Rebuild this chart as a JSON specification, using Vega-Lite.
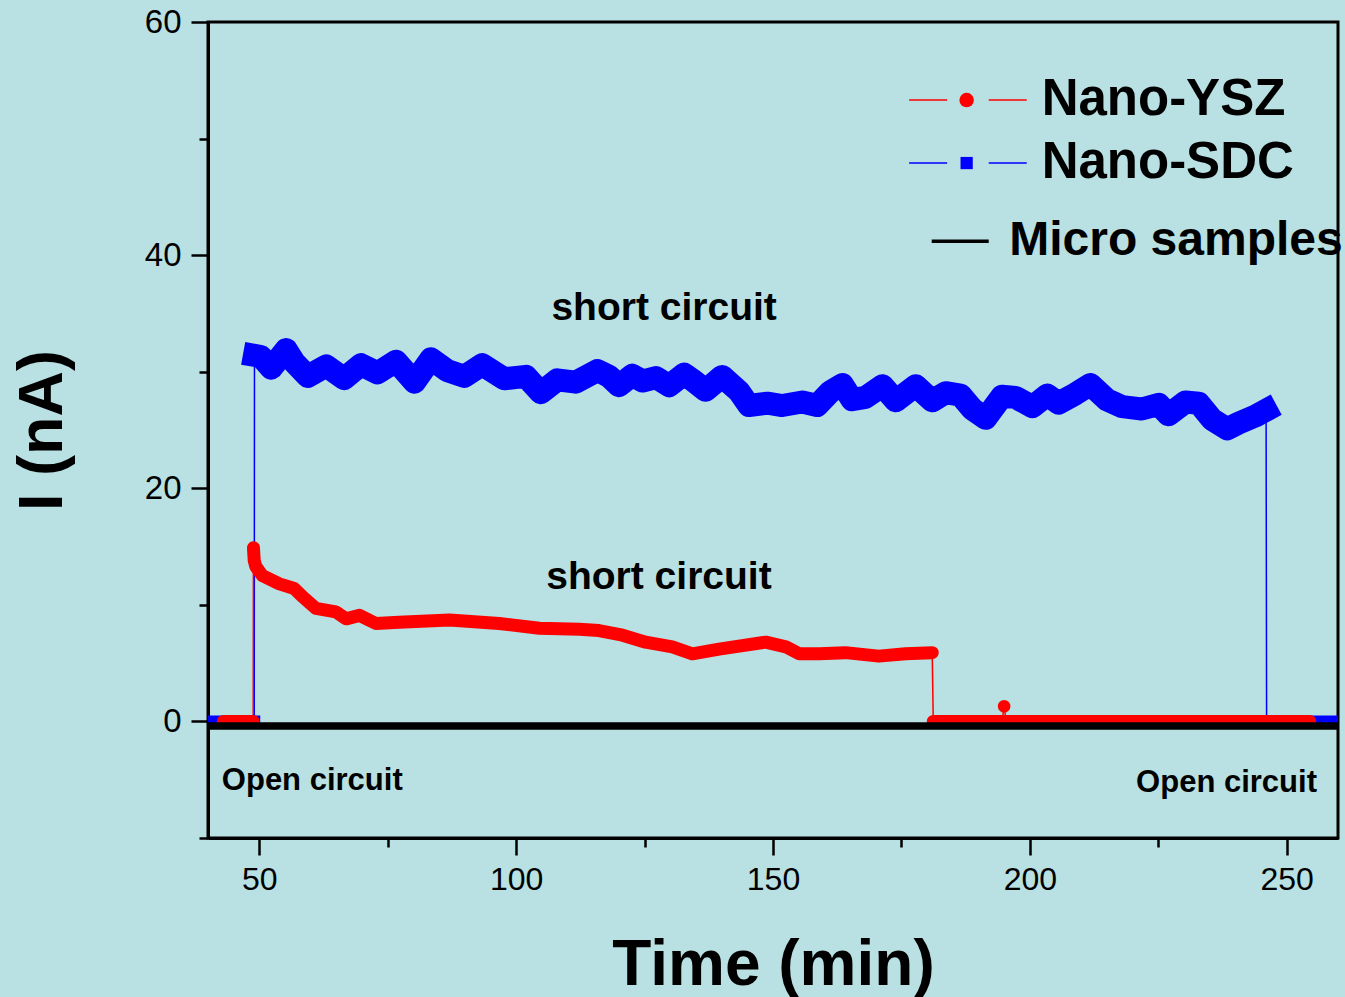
{
  "$schema": "https://vega.github.io/schema/vega-lite/v6.json",
  "width": 1130,
  "height": 816,
  "autosize": {"type": "none"},
  "padding": {"left": 208, "top": 22, "right": 7, "bottom": 159},
  "background": "#b9e0e2",
  "config": {
    "view": {"stroke": "#000000", "strokeWidth": 3},
    "font": "Liberation Sans",
    "axis": {
      "domainColor": "#000000", "domainWidth": 3, "tickColor": "#000000", "tickWidth": 2.5,
      "labelColor": "#000000", "titleColor": "#000000", "grid": false,
      "labelFont": "Liberation Sans", "titleFont": "Liberation Sans", "titleFontWeight": "bold"
    }
  },
  "datasets": {
    "blue": [
      {"t": 40, "v": 0, "seg": "low1"}, {"t": 43, "v": 0, "seg": "low1"}, {"t": 46, "v": 0, "seg": "low1"}, {"t": 49.0, "v": 0, "seg": "low1"},
      {"t": 49.05, "v": 31.4, "seg": "sc"}, {"t": 50.3, "v": 31.3, "seg": "sc"}, {"t": 52.3, "v": 30.3, "seg": "sc"}, {"t": 55.2, "v": 31.9, "seg": "sc"},
      {"t": 56.8, "v": 30.8, "seg": "sc"}, {"t": 59.4, "v": 29.6, "seg": "sc"}, {"t": 63.0, "v": 30.5, "seg": "sc"}, {"t": 66.5, "v": 29.4, "seg": "sc"},
      {"t": 69.8, "v": 30.6, "seg": "sc"}, {"t": 73.0, "v": 29.9, "seg": "sc"}, {"t": 76.6, "v": 30.9, "seg": "sc"}, {"t": 80.2, "v": 29.1, "seg": "sc"},
      {"t": 83.4, "v": 31.1, "seg": "sc"}, {"t": 86.6, "v": 30.1, "seg": "sc"}, {"t": 89.9, "v": 29.6, "seg": "sc"}, {"t": 93.4, "v": 30.6, "seg": "sc"},
      {"t": 97.7, "v": 29.4, "seg": "sc"}, {"t": 101.9, "v": 29.6, "seg": "sc"}, {"t": 104.8, "v": 28.2, "seg": "sc"}, {"t": 108.0, "v": 29.3, "seg": "sc"},
      {"t": 111.6, "v": 29.1, "seg": "sc"}, {"t": 115.8, "v": 30.1, "seg": "sc"}, {"t": 118.1, "v": 29.6, "seg": "sc"}, {"t": 120.0, "v": 28.8, "seg": "sc"},
      {"t": 122.6, "v": 29.7, "seg": "sc"}, {"t": 124.6, "v": 29.2, "seg": "sc"}, {"t": 127.2, "v": 29.5, "seg": "sc"}, {"t": 129.8, "v": 28.8, "seg": "sc"},
      {"t": 132.7, "v": 29.8, "seg": "sc"}, {"t": 134.3, "v": 29.3, "seg": "sc"}, {"t": 136.9, "v": 28.4, "seg": "sc"}, {"t": 140.1, "v": 29.6, "seg": "sc"},
      {"t": 143.4, "v": 28.3, "seg": "sc"}, {"t": 145.3, "v": 27.1, "seg": "sc"}, {"t": 148.9, "v": 27.3, "seg": "sc"}, {"t": 151.8, "v": 27.1, "seg": "sc"},
      {"t": 155.7, "v": 27.4, "seg": "sc"}, {"t": 158.6, "v": 27.1, "seg": "sc"}, {"t": 161.2, "v": 28.3, "seg": "sc"}, {"t": 163.5, "v": 28.9, "seg": "sc"},
      {"t": 165.4, "v": 27.6, "seg": "sc"}, {"t": 168.0, "v": 27.8, "seg": "sc"}, {"t": 171.3, "v": 28.8, "seg": "sc"}, {"t": 173.9, "v": 27.5, "seg": "sc"},
      {"t": 177.8, "v": 28.8, "seg": "sc"}, {"t": 181.0, "v": 27.5, "seg": "sc"}, {"t": 183.6, "v": 28.2, "seg": "sc"}, {"t": 186.5, "v": 28.0, "seg": "sc"},
      {"t": 188.8, "v": 26.8, "seg": "sc"}, {"t": 191.4, "v": 26.0, "seg": "sc"}, {"t": 194.6, "v": 27.9, "seg": "sc"}, {"t": 197.2, "v": 27.8, "seg": "sc"},
      {"t": 200.5, "v": 27.0, "seg": "sc"}, {"t": 203.4, "v": 28.0, "seg": "sc"}, {"t": 205.6, "v": 27.3, "seg": "sc"}, {"t": 208.9, "v": 28.1, "seg": "sc"},
      {"t": 211.8, "v": 28.9, "seg": "sc"}, {"t": 215.0, "v": 27.6, "seg": "sc"}, {"t": 218.0, "v": 27.0, "seg": "sc"}, {"t": 221.8, "v": 26.8, "seg": "sc"},
      {"t": 225.1, "v": 27.2, "seg": "sc"}, {"t": 227.0, "v": 26.3, "seg": "sc"}, {"t": 230.3, "v": 27.4, "seg": "sc"}, {"t": 232.9, "v": 27.3, "seg": "sc"},
      {"t": 235.5, "v": 25.9, "seg": "sc"}, {"t": 238.4, "v": 25.1, "seg": "sc"}, {"t": 240.7, "v": 25.6, "seg": "sc"}, {"t": 243.9, "v": 26.2, "seg": "sc"},
      {"t": 246.0, "v": 26.7, "seg": "sc"},
      {"t": 246.1, "v": 0, "seg": "low2"}, {"t": 250, "v": 0, "seg": "low2"}, {"t": 255, "v": 0, "seg": "low2"}, {"t": 259.5, "v": 0, "seg": "low2"}
    ],
    "red": [
      {"t": 43.0, "v": 0, "seg": "low1"}, {"t": 45.0, "v": 0, "seg": "low1"}, {"t": 47.0, "v": 0, "seg": "low1"}, {"t": 48.8, "v": 0, "seg": "low1"},
      {"t": 48.85, "v": 14.9, "seg": "sc"}, {"t": 49.0, "v": 13.8, "seg": "sc"}, {"t": 49.3, "v": 13.3, "seg": "sc"}, {"t": 50.6, "v": 12.5, "seg": "sc"},
      {"t": 53.9, "v": 11.8, "seg": "sc"}, {"t": 56.8, "v": 11.4, "seg": "sc"}, {"t": 58.4, "v": 10.7, "seg": "sc"}, {"t": 61.0, "v": 9.7, "seg": "sc"},
      {"t": 64.9, "v": 9.4, "seg": "sc"}, {"t": 66.9, "v": 8.8, "seg": "sc"}, {"t": 69.5, "v": 9.1, "seg": "sc"}, {"t": 72.7, "v": 8.4, "seg": "sc"},
      {"t": 77.2, "v": 8.5, "seg": "sc"}, {"t": 87.0, "v": 8.7, "seg": "sc"}, {"t": 96.7, "v": 8.4, "seg": "sc"}, {"t": 104.5, "v": 8.0, "seg": "sc"},
      {"t": 112.3, "v": 7.9, "seg": "sc"}, {"t": 116.1, "v": 7.8, "seg": "sc"}, {"t": 120.7, "v": 7.4, "seg": "sc"}, {"t": 125.2, "v": 6.8, "seg": "sc"},
      {"t": 130.4, "v": 6.4, "seg": "sc"}, {"t": 134.3, "v": 5.8, "seg": "sc"}, {"t": 139.5, "v": 6.2, "seg": "sc"}, {"t": 148.6, "v": 6.8, "seg": "sc"},
      {"t": 152.5, "v": 6.4, "seg": "sc"}, {"t": 155.1, "v": 5.8, "seg": "sc"}, {"t": 159.0, "v": 5.8, "seg": "sc"}, {"t": 164.1, "v": 5.9, "seg": "sc"},
      {"t": 170.6, "v": 5.6, "seg": "sc"}, {"t": 175.8, "v": 5.8, "seg": "sc"}, {"t": 181.0, "v": 5.9, "seg": "sc"},
      {"t": 181.2, "v": 0, "seg": "low2"}, {"t": 190.0, "v": 0, "seg": "low2"}, {"t": 194.6, "v": 0, "seg": "low2"},
      {"t": 195.0, "v": 1.3, "seg": "spike"},
      {"t": 195.4, "v": 0, "seg": "low2"}, {"t": 210.0, "v": 0, "seg": "low2"}, {"t": 230.0, "v": 0, "seg": "low2"}, {"t": 254.5, "v": 0, "seg": "low2"}
    ]
  },
  "encoding": {
    "x": {
      "field": "t", "type": "quantitative",
      "scale": {"domain": [40, 260], "nice": false, "zero": false},
      "axis": {
        "title": "Time (min)", "titleFontSize": 64, "titlePadding": 38,
        "values": [50, 75, 100, 125, 150, 175, 200, 225, 250],
        "labelExpr": "datum.value % 50 === 0 ? datum.label : ''",
        "tickSize": {"condition": {"test": "datum.value % 50 === 0", "value": 17}, "value": 9},
        "labelFontSize": 32, "labelPadding": 9
      }
    },
    "y": {
      "field": "v", "type": "quantitative",
      "scale": {"domain": [-10, 60], "nice": false, "zero": false},
      "axis": {
        "title": "I (nA)", "titleFontSize": 63, "titlePadding": 70,
        "values": [-10, 0, 10, 20, 30, 40, 50, 60],
        "labelExpr": "datum.value % 20 === 0 && datum.value >= 0 ? datum.label : ''",
        "tickSize": {"condition": {"test": "datum.value % 20 === 0 && datum.value >= 0", "value": 17}, "value": 9},
        "labelFontSize": 33, "labelPadding": 10
      }
    }
  },
  "layer": [
    {"data": {"name": "blue"}, "mark": {"type": "line", "color": "#0000ff", "strokeWidth": 1.5, "clip": true}},
    {"data": {"name": "blue"}, "transform": [{"filter": "datum.seg === 'sc'"}],
     "mark": {"type": "line", "color": "#0000ff", "strokeWidth": 23, "strokeJoin": "round", "strokeCap": "square", "clip": true}},
    {"data": {"name": "blue"}, "transform": [{"filter": "datum.seg !== 'sc'"}],
     "mark": {"type": "line", "color": "#0000ff", "strokeWidth": 12, "strokeCap": "square", "clip": true},
     "encoding": {"detail": {"field": "seg"}}},
    {"data": {"name": "red"}, "mark": {"type": "line", "color": "#ff0000", "strokeWidth": 1.5, "clip": true}},
    {"data": {"name": "red"}, "transform": [{"filter": "datum.seg !== 'spike'"}],
     "mark": {"type": "line", "color": "#ff0000", "strokeWidth": 13, "strokeJoin": "round", "strokeCap": "round", "clip": true},
     "encoding": {"detail": {"field": "seg"}}},
    {"data": {"name": "red"}, "transform": [{"filter": "datum.seg === 'spike'"}],
     "mark": {"type": "point", "shape": "circle", "filled": true, "color": "#ff0000", "size": 160, "opacity": 1}},
    {"data": {"values": [{"t": 40, "v": -0.4}, {"t": 260, "v": -0.4}]},
     "mark": {"type": "line", "color": "#000000", "strokeWidth": 7.5, "clip": true}},
    {"data": {"values": [{"t": 128.8, "v": 35.5, "label": "short circuit"}, {"t": 127.8, "v": 12.4, "label": "short circuit"}]},
     "mark": {"type": "text", "fontSize": 39, "fontWeight": "bold", "color": "#000000", "align": "center", "baseline": "middle"},
     "encoding": {"text": {"field": "label"}}},
    {"data": {"values": [{"t": 60.3, "v": -5.1, "label": "Open circuit"}, {"t": 238.3, "v": -5.3, "label": "Open circuit"}]},
     "mark": {"type": "text", "fontSize": 31, "fontWeight": "bold", "color": "#000000", "align": "center", "baseline": "middle"},
     "encoding": {"text": {"field": "label"}}},
    {"data": {"values": [
      {"series": "Nano-YSZ", "t": 176.5, "t2": 183.9, "v": 53.3}, {"series": "Nano-YSZ", "t": 192.0, "t2": 199.4, "v": 53.3},
      {"series": "Nano-SDC", "t": 176.5, "t2": 183.9, "v": 47.9}, {"series": "Nano-SDC", "t": 192.0, "t2": 199.4, "v": 47.9}
     ]},
     "mark": {"type": "rule", "strokeWidth": 1.5},
     "encoding": {"x2": {"field": "t2"},
       "color": {"field": "series", "type": "nominal", "scale": {"domain": ["Nano-YSZ", "Nano-SDC"], "range": ["#ff0000", "#0000ff"]}, "legend": null}}},
    {"data": {"values": [{"series": "Micro samples", "t": 180.9, "t2": 192.0, "v": 41.2}]},
     "mark": {"type": "rule", "strokeWidth": 3.5, "color": "#000000"},
     "encoding": {"x2": {"field": "t2"}}},
    {"data": {"values": [{"series": "Nano-YSZ", "t": 187.7, "v": 53.3}]},
     "mark": {"type": "point", "shape": "circle", "filled": true, "opacity": 1, "color": "#ff0000", "size": 210}},
    {"data": {"values": [{"series": "Nano-SDC", "t": 187.7, "v": 47.9}]},
     "mark": {"type": "point", "shape": "square", "filled": true, "opacity": 1, "color": "#0000ff", "size": 150}},
    {"data": {"values": [{"label": "Nano-YSZ", "t": 202.3, "v": 53.3}, {"label": "Nano-SDC", "t": 202.3, "v": 47.9}]},
     "mark": {"type": "text", "fontSize": 51, "fontWeight": "bold", "color": "#000000", "align": "left", "baseline": "middle"},
     "encoding": {"text": {"field": "label"}}},
    {"data": {"values": [{"label": "Micro samples", "t": 196.0, "v": 41.2}]},
     "mark": {"type": "text", "fontSize": 48, "fontWeight": "bold", "color": "#000000", "align": "left", "baseline": "middle"},
     "encoding": {"text": {"field": "label"}}}
  ]
}
